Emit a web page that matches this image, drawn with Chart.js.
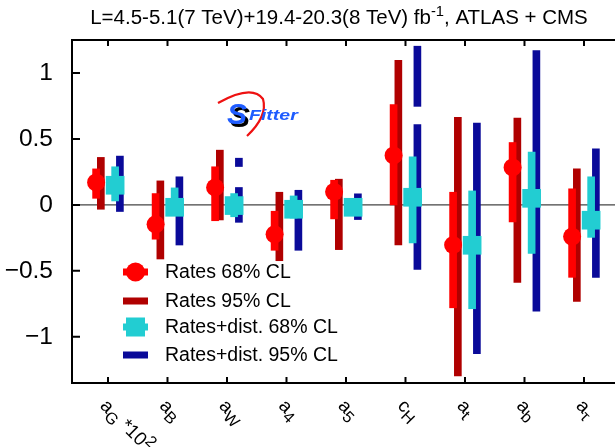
<!DOCTYPE html>
<html>
<head>
<meta charset="utf-8">
<script src="https://cdn.jsdelivr.net/npm/chart.js@4.4.1/dist/chart.umd.min.js"></script>
<style>
  html, body { margin: 0; padding: 0; background: #fff; overflow: hidden; }
  #wrap { width: 615px; height: 447px; overflow: hidden; }
</style>
</head>
<body>
<div id="wrap"><canvas id="fit" width="640" height="447"></canvas></div>
<script>
// coupling labels, "_" = subscript, "^" = superscript
const categories = ['a_G *10^2', 'a_B', 'a_W', 'a_4', 'a_5', 'c_H', 'a_t', 'a_b', 'a_τ'];
const yTicks = [-1, -0.5, 0, 0.5, 1];
const titleText = 'L=4.5-5.1(7 TeV)+19.4-20.3(8 TeV) fb^{-1}, ATLAS + CMS';
const legendLabels = ['Rates 68% CL', 'Rates 95% CL', 'Rates+dist. 68% CL', 'Rates+dist. 95% CL'];

// rates only
const rates68Best = [0.17, -0.147, 0.132, -0.223, 0.099, 0.375, -0.304, 0.284, -0.24];
const rates68Low  = [0.05, -0.26, -0.12, -0.344, -0.106, 0.0, -0.78, -0.129, -0.549];
const rates68High = [0.273, 0.086, 0.289, -0.048, 0.187, 0.76, 0.096, 0.473, 0.122];
const rates95Low  = [-0.033, -0.41, -0.114, -0.423, -0.339, -0.304, -1.296, -0.587, -0.732];
const rates95High = [0.36, 0.182, 0.415, 0.096, 0.195, 1.096, 0.663, 0.658, 0.273];

// rates + distributions
const dist68Best = [0.149, -0.018, -0.005, -0.033, -0.018, 0.058, -0.306, 0.05, -0.116];
const dist68Low  = [0.03, -0.08, -0.09, -0.1, -0.06, -0.289, -0.787, -0.367, -0.246];
const dist68High = [0.289, 0.129, 0.086, 0.068, 0.03, 0.365, 0.106, 0.4, 0.213];
const dist95Low  = [-0.05, -0.304, -0.132, -0.344, -0.111, -0.489, -1.127, -0.805, -0.549];
const dist95High = [0.37, 0.213, 0.132, 0.111, 0.084, 0.608, 0.62, 1.17, 0.425];
// second (disjoint) 95% interval where there is one
const dist95ExtraLow  = [null, null, 0.291, null, null, 0.747, null, null, null];
const dist95ExtraHigh = [null, null, 0.354, null, null, 1.203, null, null, null];

const RED = '#ff0000', DARKRED = '#b00000', CYAN = '#22cdd2', BLUE = '#0a0a99';
const FONT = '"Liberation Sans", Arial, sans-serif';

function ranges(lo, hi, off) {
  const out = [];
  lo.forEach((v, i) => { if (v !== null) out.push({x: i + off, y: [v, hi[i]]}); });
  return out;
}
function points(vals, off) {
  return vals.map((v, i) => ({x: i + off, y: v}));
}

function richParts(s) {
  const parts = [];
  let i = 0, buf = '';
  while (i < s.length) {
    const c = s[i];
    if (c === '_' || c === '^') {
      if (buf) { parts.push({t: buf, m: 0}); buf = ''; }
      let t;
      if (s[i + 1] === '{') { const j = s.indexOf('}', i); t = s.slice(i + 2, j); i = j + 1; }
      else { t = s[i + 1]; i += 2; }
      parts.push({t, m: c === '_' ? -1 : 1});
    } else { buf += c; i++; }
  }
  if (buf) parts.push({t: buf, m: 0});
  return parts;
}

function drawRich(ctx, s, x, y, size, align, small) {
  const parts = richParts(s);
  const fontOf = m => (m ? size * small : size) + 'px ' + FONT;
  let w = 0;
  parts.forEach(p => { ctx.font = fontOf(p.m); p.w = ctx.measureText(p.t).width; w += p.w; });
  let cx = align === 'center' ? x - w / 2 : x;
  ctx.textAlign = 'left';
  ctx.textBaseline = 'middle';
  parts.forEach(p => {
    ctx.font = fontOf(p.m);
    ctx.fillText(p.t, cx, y - p.m * size * 0.3);
    cx += p.w;
  });
}

const decor = {
  id: 'decor',
  beforeDatasetsDraw(chart) {
    const {ctx, chartArea: a, scales: {y}} = chart;
    const y0 = y.getPixelForValue(0);
    ctx.save();
    ctx.strokeStyle = '#444';
    ctx.lineWidth = 1.2;
    ctx.beginPath();
    ctx.moveTo(a.left, y0);
    ctx.lineTo(a.right, y0);
    ctx.stroke();
    ctx.restore();
  },
  afterDraw(chart) {
    const {ctx, chartArea: a, scales: {x, y}} = chart;
    ctx.save();
    ctx.fillStyle = '#000';
    ctx.strokeStyle = '#000';

    // frame + inward ticks
    ctx.lineWidth = 2;
    ctx.strokeRect(a.left, a.top, a.right - a.left, a.bottom - a.top);
    ctx.beginPath();
    categories.forEach((c, i) => {
      const px = x.getPixelForValue(i);
      ctx.moveTo(px, a.top); ctx.lineTo(px, a.top + 6);
      ctx.moveTo(px, a.bottom); ctx.lineTo(px, a.bottom - 6);
    });
    yTicks.forEach(v => {
      const py = y.getPixelForValue(v);
      ctx.moveTo(a.left, py); ctx.lineTo(a.left + 8, py);
    });
    ctx.stroke();

    // title
    drawRich(ctx, titleText, 339, 18, 20.5, 'center', 0.72);

    // rotated category labels
    categories.forEach((c, i) => {
      const px = x.getPixelForValue(i);
      ctx.save();
      ctx.translate(px - 5, a.bottom + 20);
      ctx.rotate(Math.PI / 4);
      drawRich(ctx, c, 0, 0, 19, 'left', 0.85);
      ctx.restore();
    });

    // legend
    const lx0 = 123, lx1 = 148, cx = 135.5;
    const rows = [272, 301, 327, 355];
    const cols = [RED, DARKRED, CYAN, BLUE];
    rows.forEach((ry, k) => {
      ctx.fillStyle = cols[k];
      ctx.fillRect(lx0, ry - 3.5, lx1 - lx0, 7);
      if (k === 0) { ctx.beginPath(); ctx.arc(cx, ry, 9.5, 0, Math.PI * 2); ctx.fill(); }
      if (k === 2) ctx.fillRect(cx - 9.5, ry - 9.5, 19, 19);
      ctx.fillStyle = '#000';
      ctx.font = '19.5px ' + FONT;
      ctx.textAlign = 'left';
      ctx.textBaseline = 'middle';
      ctx.fillText(legendLabels[k], 165, ry + 1);
    });

    // SFitter logo
    ctx.strokeStyle = '#ee1111';
    ctx.lineWidth = 2.2;
    ctx.beginPath();
    ctx.moveTo(218, 103);
    ctx.quadraticCurveTo(252, 84, 263, 99);
    ctx.quadraticCurveTo(268, 116, 247, 136);
    ctx.stroke();
    ctx.font = 'italic bold 30px ' + FONT;
    ctx.textBaseline = 'alphabetic';
    ctx.fillStyle = '#000';
    ctx.fillText('S', 230, 127);
    ctx.fillStyle = '#1f5cff';
    ctx.fillText('S', 227, 124);
    ctx.save();
    ctx.translate(249, 120);
    ctx.scale(1.3, 1);
    ctx.font = 'italic bold 15px ' + FONT;
    ctx.fillText('Fitter', 0, 0);
    ctx.restore();

    ctx.restore();
  }
};

new Chart(document.getElementById('fit'), {
  type: 'bar',
  data: {
    datasets: [
      {type: 'line', showLine: false, data: points(rates68Best, -0.2), pointStyle: 'circle',
       pointRadius: 9, pointBackgroundColor: RED, pointBorderWidth: 0, order: 1},
      {data: ranges(rates68Low, rates68High, -0.2), backgroundColor: RED, order: 2},
      {data: ranges(rates95Low, rates95High, -0.12), backgroundColor: DARKRED, order: 3},
      {type: 'line', showLine: false, data: points(dist68Best, 0.12), pointStyle: 'rect',
       pointRadius: 13.2, pointBackgroundColor: CYAN, pointBorderWidth: 0, order: 1},
      {data: ranges(dist68Low, dist68High, 0.12), backgroundColor: CYAN, order: 2},
      {data: ranges(dist95Low, dist95High, 0.2), backgroundColor: BLUE, order: 3},
      {data: ranges(dist95ExtraLow, dist95ExtraHigh, 0.2), backgroundColor: BLUE, order: 3}
    ]
  },
  options: {
    responsive: false,
    animation: false,
    grouped: false,
    barThickness: 7,
    layout: {padding: {top: 40, right: 14, left: 0, bottom: 0}},
    plugins: {legend: {display: false}, tooltip: {enabled: false}, title: {display: false}},
    scales: {
      x: {
        type: 'linear', min: -0.605, max: 8.706, offset: false,
        grid: {display: false, drawTicks: false}, border: {display: false},
        ticks: {display: false},
        afterFit(s) { s.height = 64; }
      },
      y: {
        min: -1.35, max: 1.25,
        grid: {display: false, drawTicks: false}, border: {display: false},
        afterBuildTicks(s) { s.ticks = yTicks.map(v => ({value: v})); },
        ticks: {
          padding: 19, color: '#000', font: {family: FONT, size: 24.5},
          callback: v => String(v).replace('-', '−')
        },
        afterFit(s) { s.width = 72; }
      }
    }
  },
  plugins: [decor]
});
</script>
</body>
</html>
